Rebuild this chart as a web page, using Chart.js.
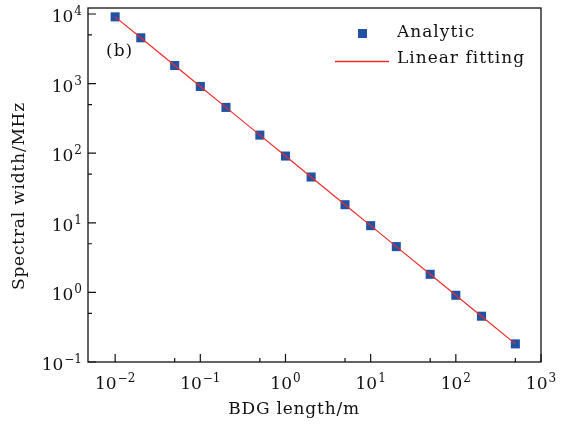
<!DOCTYPE html>
<html>
<head>
<meta charset="utf-8">
<script src="https://cdn.jsdelivr.net/npm/chart.js@4/dist/chart.umd.min.js"></script>
<style>
  html, body { margin: 0; padding: 0; background: #fff; }
  #wrap { width: 568px; height: 426px; }
</style>
</head>
<body>
<div id="wrap"><canvas id="chart" width="568" height="426"></canvas></div>
<script>
// BDG length (m) and spectral width (MHz)
const lengths = [0.01, 0.02, 0.05, 0.1, 0.2, 0.5, 1, 2, 5, 10, 20, 50, 100, 200, 500];
const analytic = [9100, 4550, 1820, 910, 455, 182, 91, 45.5, 18.2, 9.1, 4.55, 1.82, 0.91, 0.455, 0.182];
const fitted = [9100, 4550, 1820, 910, 455, 182, 91, 45.5, 18.2, 9.1, 4.55, 1.82, 0.91, 0.455, 0.182];
const xDecades = [0.01, 0.1, 1, 10, 100, 1000];
const yDecades = [0.1, 1, 10, 100, 1000, 10000];
const xMinor = [0.05, 0.5, 5, 50, 500];
const yMinor = [0.5, 5, 50, 500, 5000];

const FONT = '"DejaVu Serif"';
const BLUE = '#2152a3';
const RED = '#ee2b2b';
const INK = '#111';

// "10" with a raised exponent; returns total width
function powWidth(ctx, v) {
    const e = String(Math.round(Math.log10(v))).replace('-', '−');
    ctx.font = '17px ' + FONT;
    const w1 = ctx.measureText('10').width;
    ctx.font = '12px ' + FONT;
    const w2 = ctx.measureText(e).width;
    return { e: e, w1: w1, w2: w2, total: w1 + 1 + w2 };
}
function drawPow(ctx, v, x, baseline) {
    const m = powWidth(ctx, v);
    ctx.textAlign = 'left';
    ctx.textBaseline = 'alphabetic';
    ctx.font = '17px ' + FONT;
    ctx.fillText('10', x, baseline);
    ctx.font = '12px ' + FONT;
    ctx.fillText(m.e, x + m.w1 + 1, baseline - 7);
}

// frame, inward ticks, tick labels, legend and panel letter
const decor = {
    id: 'decor',
    afterDraw(chart) {
        const ctx = chart.ctx;
        const a = chart.chartArea;
        const xs = chart.scales.x, ys = chart.scales.y;
        ctx.save();
        ctx.strokeStyle = INK;
        ctx.lineWidth = 1.3;
        ctx.strokeRect(a.left, a.top, a.right - a.left, a.bottom - a.top);

        ctx.lineWidth = 1.2;
        ctx.beginPath();
        xDecades.forEach(v => { const p = xs.getPixelForValue(v); ctx.moveTo(p, a.bottom); ctx.lineTo(p, a.bottom - 8); });
        xMinor.forEach(v => { const p = xs.getPixelForValue(v); ctx.moveTo(p, a.bottom); ctx.lineTo(p, a.bottom - 4); });
        yDecades.forEach(v => { const p = ys.getPixelForValue(v); ctx.moveTo(a.left, p); ctx.lineTo(a.left + 8, p); });
        yMinor.forEach(v => { const p = ys.getPixelForValue(v); ctx.moveTo(a.left, p); ctx.lineTo(a.left + 4, p); });
        ctx.stroke();

        ctx.fillStyle = INK;
        xDecades.forEach(v => {
            const p = xs.getPixelForValue(v);
            const m = powWidth(ctx, v);
            drawPow(ctx, v, p - m.total / 2, a.bottom + 27);
        });
        yDecades.forEach(v => {
            const p = ys.getPixelForValue(v);
            const m = powWidth(ctx, v);
            drawPow(ctx, v, a.left - 6 - m.total, p + 8);
        });

        // legend
        ctx.fillStyle = BLUE;
        ctx.fillRect(358, 29, 9, 9);
        ctx.strokeStyle = RED;
        ctx.lineWidth = 1.3;
        ctx.beginPath();
        ctx.moveTo(335, 61.5);
        ctx.lineTo(389, 61.5);
        ctx.stroke();
        ctx.fillStyle = INK;
        ctx.font = '17px ' + FONT;
        ctx.letterSpacing = '1px';
        ctx.textBaseline = 'middle';
        ctx.textAlign = 'left';
        ctx.fillText('Analytic', 397, 33);
        ctx.fillText('Linear fitting', 397, 59);
        ctx.fillText('(b)', 106, 52);

        // axis titles
        ctx.letterSpacing = '0.8px';
        ctx.textAlign = 'center';
        ctx.fillText('BDG length/m', 294, 410);
        ctx.translate(20, 196);
        ctx.rotate(-Math.PI / 2);
        ctx.fillText('Spectral width/MHz', 0, 0);
        ctx.restore();
    }
};

const ctx = document.getElementById('chart');
new Chart(ctx, {
    type: 'scatter',
    data: {
        datasets: [
            {
                label: 'Linear fitting',
                type: 'line',
                data: lengths.map((x, i) => ({ x: x, y: fitted[i] })),
                borderColor: RED,
                borderWidth: 1.2,
                pointRadius: 0,
                fill: false,
                order: 1
            },
            {
                label: 'Analytic',
                data: lengths.map((x, i) => ({ x: x, y: analytic[i] })),
                backgroundColor: BLUE,
                borderColor: BLUE,
                borderWidth: 0,
                pointStyle: 'rect',
                pointRadius: 6.4,
                order: 2
            }
        ]
    },
    options: {
        responsive: false,
        animation: false,
        layout: { padding: { left: 0, right: 27, top: 8, bottom: 0 } },
        plugins: { legend: { display: false }, tooltip: { enabled: false } },
        scales: {
            x: {
                type: 'logarithmic',
                min: 0.0048,
                max: 1000,
                afterBuildTicks: s => { s.ticks = xDecades.map(v => ({ value: v })); },
                afterFit: s => { s.height = 64; },
                grid: { display: false, drawTicks: false },
                border: { display: false },
                ticks: { display: false }
            },
            y: {
                type: 'logarithmic',
                min: 0.1,
                max: 12200,
                afterBuildTicks: s => { s.ticks = yDecades.map(v => ({ value: v })); },
                afterFit: s => { s.width = 88; },
                grid: { display: false, drawTicks: false },
                border: { display: false },
                ticks: { display: false }
            }
        }
    },
    plugins: [decor]
});
</script>
</body>
</html>
